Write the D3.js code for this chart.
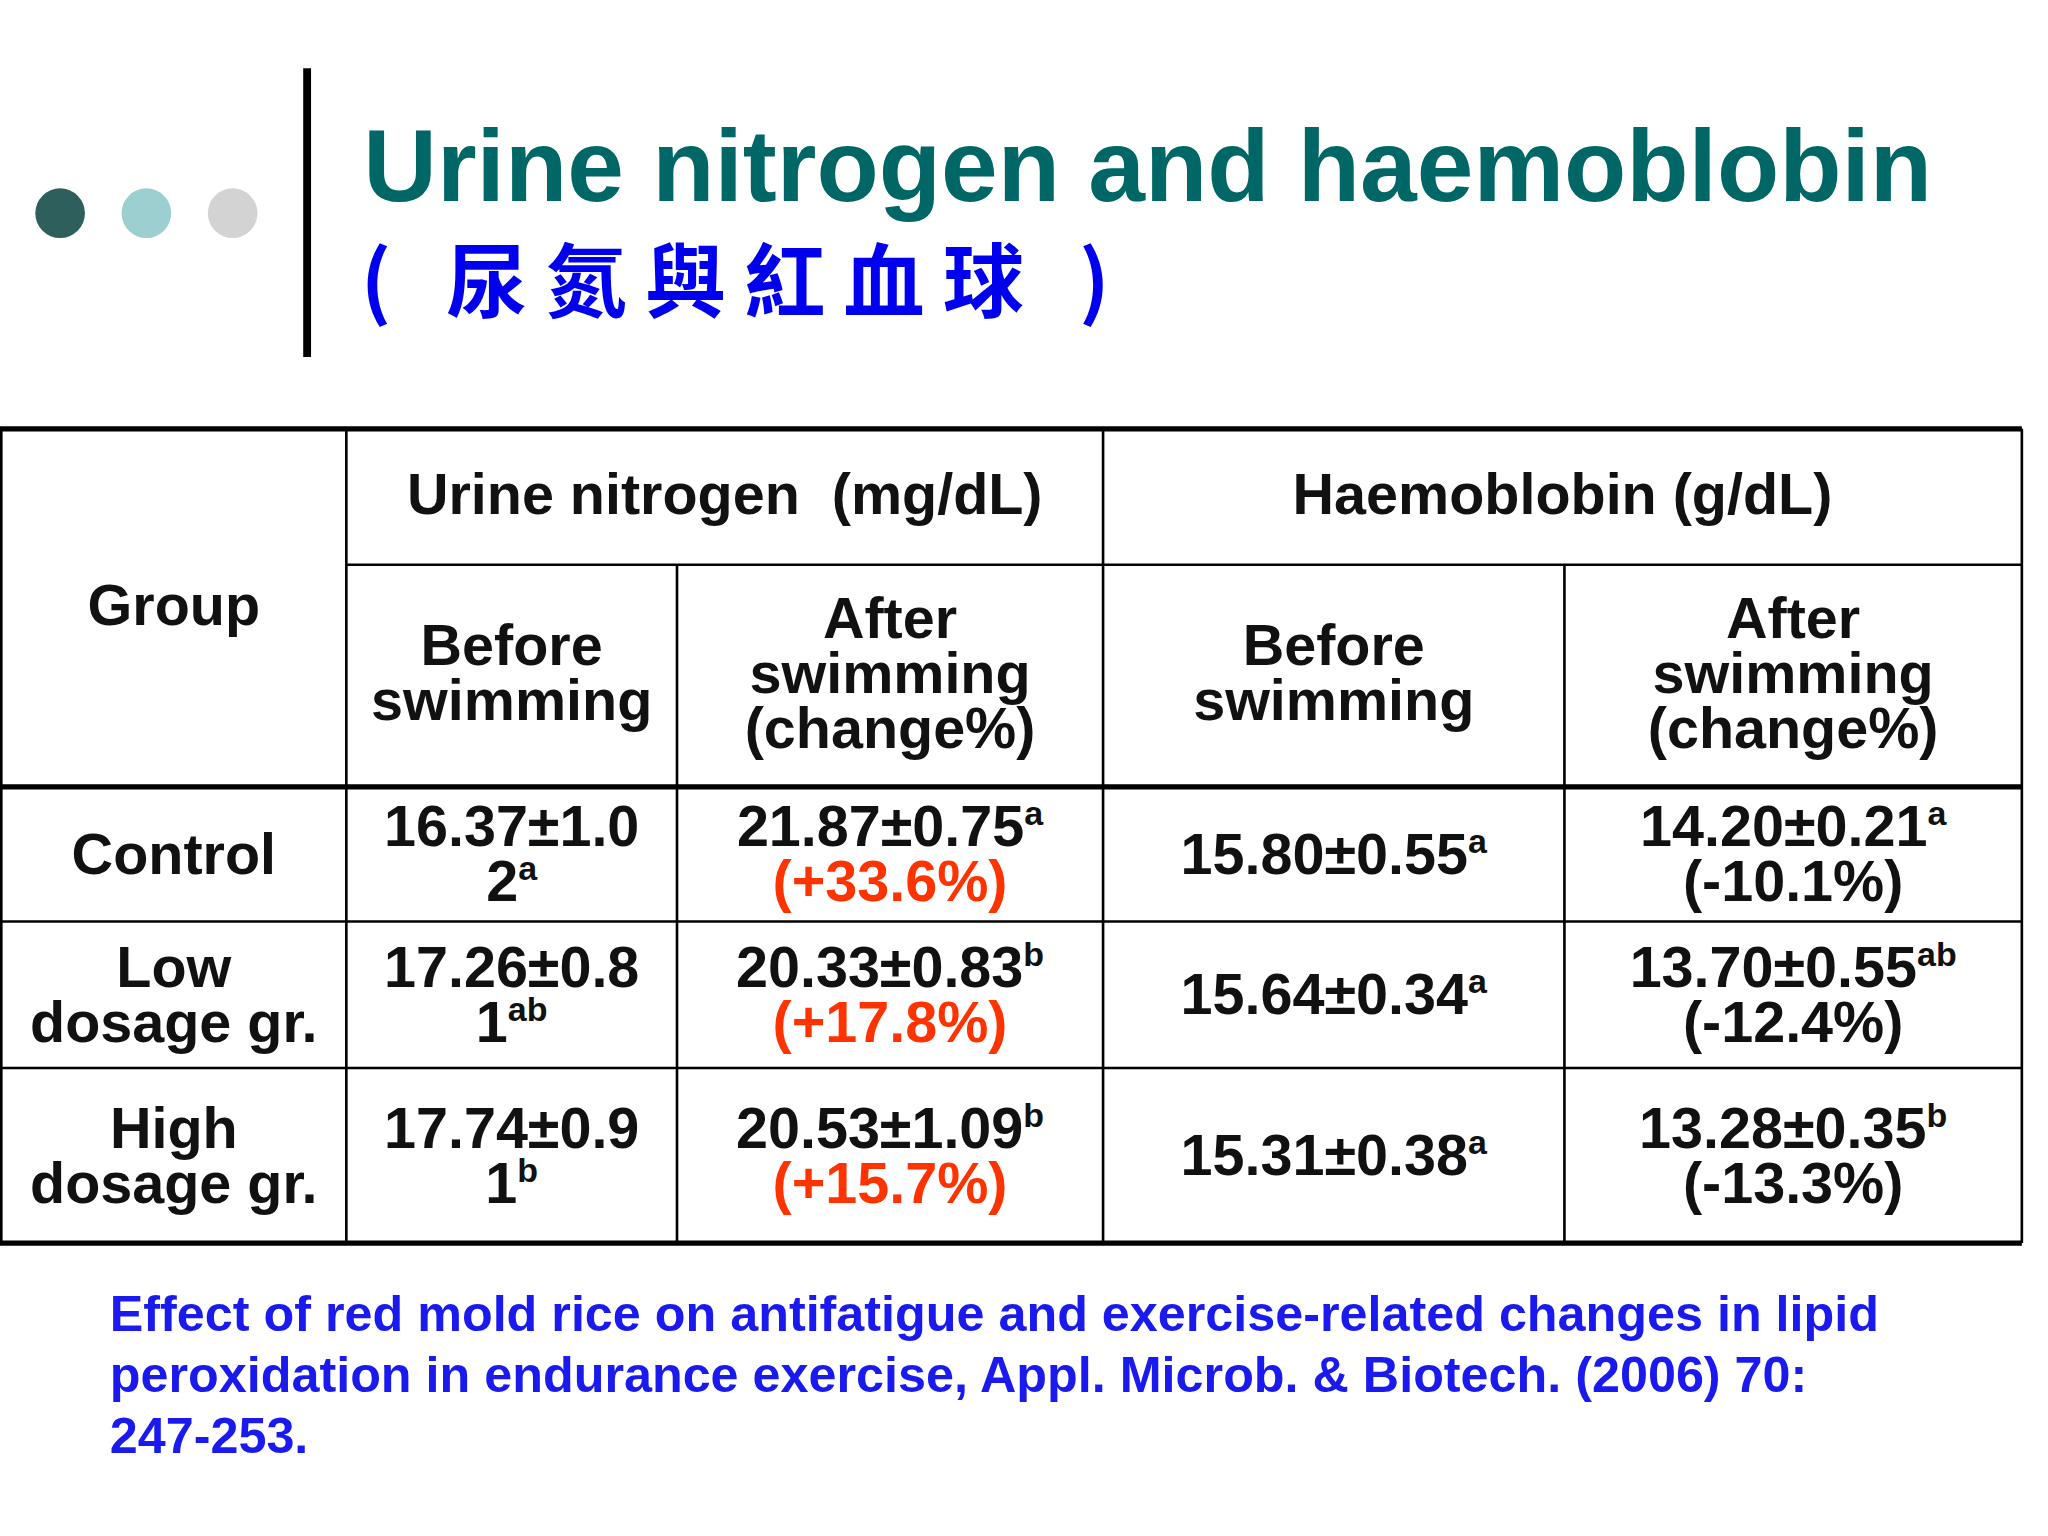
<!DOCTYPE html>
<html><head><meta charset="utf-8">
<script src="https://cdn.jsdelivr.net/npm/d3@7"></script>
<style>body{margin:0;background:#fff}</style></head>
<body><svg id="c" width="2048" height="1536" viewBox="0 0 1567 1175"></svg>
<script>
const groups = [["Control"],["Low","dosage gr."],["High","dosage gr."]];
const unBefore = [["16.37±1.0","2","a"],["17.26±0.8","1","ab"],["17.74±0.9","1","b"]];
const unAfter = [["21.87±0.75","a"],["20.33±0.83","b"],["20.53±1.09","b"]];
const unChange = ["(+33.6%)","(+17.8%)","(+15.7%)"];
const hbBefore = [["15.80±0.55","a"],["15.64±0.34","a"],["15.31±0.38","a"]];
const hbAfter = [["14.20±0.21","a"],["13.70±0.55","ab"],["13.28±0.35","b"]];
const hbChange = ["(-10.1%)","(-12.4%)","(-13.3%)"];
const footer = ["Effect of red mold rice on antifatigue and exercise-related changes in lipid","peroxidation in endurance exercise, Appl. Microb. & Biotech. (2006) 70:","247-253."];

const svg = d3.select("#c");
const F = "'Liberation Sans', Arial, sans-serif";
const dotX = d3.scalePoint().domain([0,1,2]).range([46,178]);
svg.selectAll("circle").data(["#2f5f5c","#9ccfd0","#d3d3d3"]).join("circle")
  .attr("cx",(d,i)=>dotX(i)).attr("cy",163).attr("r",19).attr("fill",d=>d);
svg.append("line").attr("x1",235).attr("x2",235).attr("y1",52).attr("y2",273).attr("stroke","#000").attr("stroke-width",6);
svg.append("text").attr("x",278).attr("y",154).attr("font-family",F).attr("font-weight","bold").attr("font-size",78).attr("fill","#006666").text("Urine nitrogen and haemoblobin");
svg.append("text").attr("x",276).attr("y",238).attr("font-family","'Noto Sans CJK TC', "+F).attr("font-weight","bold").attr("font-size",62).attr("letter-spacing",14).attr("fill","#0000ee").text("( 尿氮與紅血球 )");

const colX = [0,265,518,844,1197,1547];
const rowY = [328,432,602,705,817,951];
const g = svg.append("g");
function ln(x1,y1,x2,y2,w){g.append("line").attr("x1",x1).attr("y1",y1).attr("x2",x2).attr("y2",y2).attr("stroke","#000").attr("stroke-width",w);}
ln(0,328,1547,328,4); ln(0,602,1547,602,4); ln(0,951,1547,951,4);
ln(265,432,1547,432,2); ln(0,705,1547,705,2); ln(0,817,1547,817,2);
ln(1,328,1,951,2); ln(1547,328,1547,951,2);
[265,518,1197].forEach(x=>ln(x,x===265?328:432,x,951,2));
ln(844,328,844,951,2);

function cell(cx, cy, lines){
  const lh = 42, n = lines.length;
  lines.forEach((l,i)=>{
    const t = g.append("text").attr("x",cx).attr("y",cy+(i-(n-1)/2)*lh+15).attr("text-anchor","middle")
      .attr("xml:space","preserve")
      .attr("font-family",F).attr("font-weight","bold").attr("font-size",44).attr("fill",l.color||"#111");
    t.append("tspan").text(l.t);
    if(l.sup) t.append("tspan").attr("font-size",26).attr("dy",-16).text(l.sup);
  });
}
const mid = (a,b)=>(a+b)/2;
cell(133,463,[{t:"Group"}]);
cell(mid(265,844),378,[{t:"Urine nitrogen  (mg/dL)"}]);
cell(mid(844,1547),378,[{t:"Haemoblobin (g/dL)"}]);
cell(mid(265,518),515,[{t:"Before"},{t:"swimming"}]);
cell(mid(518,844),515,[{t:"After"},{t:"swimming"},{t:"(change%)"}]);
cell(mid(844,1197),515,[{t:"Before"},{t:"swimming"}]);
cell(mid(1197,1547),515,[{t:"After"},{t:"swimming"},{t:"(change%)"}]);
groups.forEach((gr,i)=>{
  const cy = mid(rowY[i+2],rowY[i+3]);
  cell(133,cy,gr.map(t=>({t})));
  cell(mid(265,518),cy,[{t:unBefore[i][0]},{t:unBefore[i][1],sup:unBefore[i][2]}]);
  cell(mid(518,844),cy,[{t:unAfter[i][0],sup:unAfter[i][1]},{t:unChange[i],color:"#ff3300"}]);
  cell(mid(844,1197),cy,[{t:hbBefore[i][0],sup:hbBefore[i][1]}]);
  cell(mid(1197,1547),cy,[{t:hbAfter[i][0],sup:hbAfter[i][1]},{t:hbChange[i]}]);
});
svg.selectAll("text.f").data(footer).join("text").attr("class","f").attr("x",84).attr("y",(d,i)=>1018+i*47)
  .attr("font-family",F).attr("font-weight","bold").attr("font-size",38.5).attr("fill","#1a1aee").text(d=>d);
</script></body></html>
